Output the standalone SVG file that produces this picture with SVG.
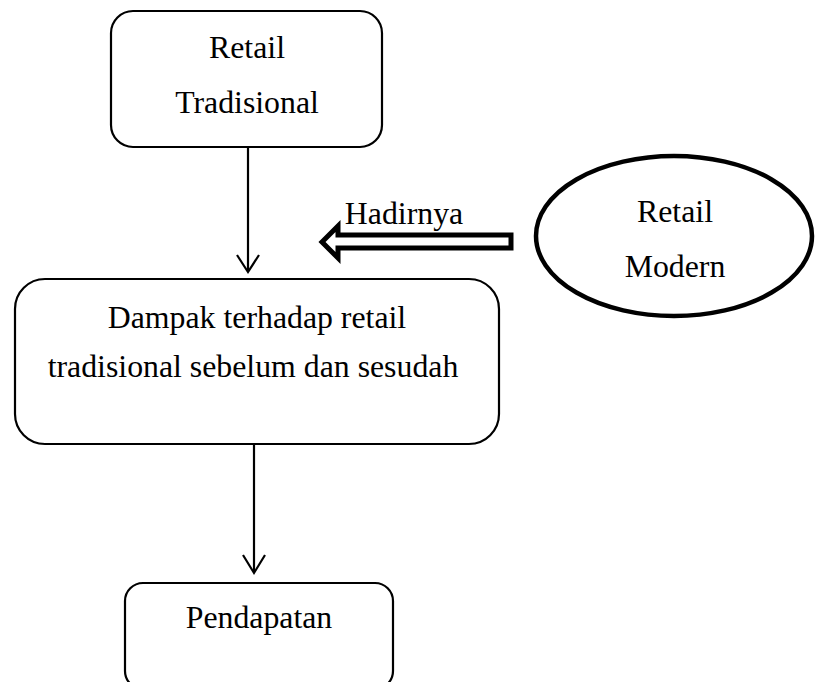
<svg xmlns="http://www.w3.org/2000/svg" width="815" height="682" viewBox="0 0 815 682">
<defs>
<style>
.box{fill:#fff;stroke:#000;stroke-width:2.2}
.t{font-family:"Liberation Serif","Times New Roman",serif;font-size:31.8px;fill:#000;text-anchor:middle}
.c{fill:none;stroke:#000;stroke-width:2.2}
</style>
</defs>
<rect width="815" height="682" fill="#fff"/>
<g id="connectors">
<line class="c" x1="248" y1="148" x2="248" y2="271"/>
<polyline class="c" points="237,255 248,272 259,255"/>
<line class="c" x1="254" y1="444" x2="254" y2="572"/>
<polyline class="c" points="243,555 254,573 265,555"/>
<polygon points="322,242 338,226 338,235 511,235 511,248 338,248 338,258" fill="#fff" stroke="#000" stroke-width="5" stroke-linejoin="miter"/>
<text class="t" x="404" y="224">Hadirnya</text>
</g>
<g id="retail-tradisional">
<rect class="box" x="111" y="11" width="271" height="136" rx="22"/>
<text class="t" x="247" y="58">Retail</text>
<text class="t" x="247" y="113">Tradisional</text>
</g>
<g id="retail-modern">
<ellipse cx="674" cy="236" rx="138" ry="80" fill="#fff" stroke="#000" stroke-width="4.5"/>
<text class="t" x="675" y="222">Retail</text>
<text class="t" x="675" y="277">Modern</text>
</g>
<g id="dampak">
<rect class="box" x="15" y="279" width="484" height="165" rx="30"/>
<text class="t" x="257" y="328">Dampak terhadap retail</text>
<text class="t" x="253" y="377">tradisional sebelum dan sesudah</text>
</g>
<g id="pendapatan">
<rect class="box" x="125" y="583" width="268" height="106" rx="18"/>
<text class="t" x="259" y="628">Pendapatan</text>
</g>
</svg>
